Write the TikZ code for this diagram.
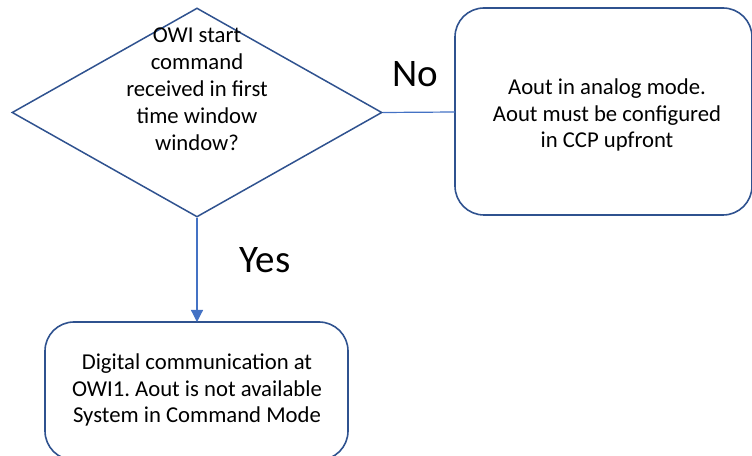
\documentclass[tikz,border=0pt]{standalone}
\usepackage{fontspec}
\setmainfont{Carlito}
\usetikzlibrary{shapes.geometric,arrows.meta}
\definecolor{shapeblue}{HTML}{2F528F}
\definecolor{linkblue}{HTML}{4472C4}
\frenchspacing
\begin{document}
\begin{tikzpicture}[x=1bp,y=-1bp,
  decision/.style={draw=shapeblue,line width=1.5bp,diamond,inner sep=0pt,
    minimum width=370bp,minimum height=209bp},
  rbox/.style={draw=shapeblue,line width=1.6bp,rounded corners=29bp},
  body/.style={align=center,font=\fontsize{22.7bp}{26.5bp}\selectfont,inner sep=0pt},
  branch/.style={font=\fontsize{39bp}{44bp}\selectfont,inner sep=0pt},
  link/.style={draw=linkblue,line width=1.2bp}
]
\useasboundingbox (0,0) rectangle (752,456);

% decision
\node[decision] (dec) at (197,112.5) {};
\node[body,font=\fontsize{22.7bp}{27bp}\selectfont] (dectext) at (197,89)
  {OWI start\\command\\received in first\\time window\\window?};

% outcomes
\draw[rbox] (455,8) rectangle (752,215);
\coordinate (analog) at (455,112);
\node[body] (analogtext) at (607,115)
  {Aout in analog mode.\\Aout must be configured\\in CCP upfront};

\draw[rbox] (45,322) rectangle (348,460);
\coordinate (digital) at (197,322);
\node[body] (digitaltext) at (197,390)
  {Digital communication at\\OWI1. Aout is not available\\System in Command Mode};

% connectors
\draw[link] (dec.east) -- (analog);
\draw[link,-{Triangle[length=12bp,width=12bp]}] (dec.south) -- (digital);

\node[branch] (no) at (415,74) {No};
\node[branch] (yes) at (265,260) {Yes};
\end{tikzpicture}
\end{document}
